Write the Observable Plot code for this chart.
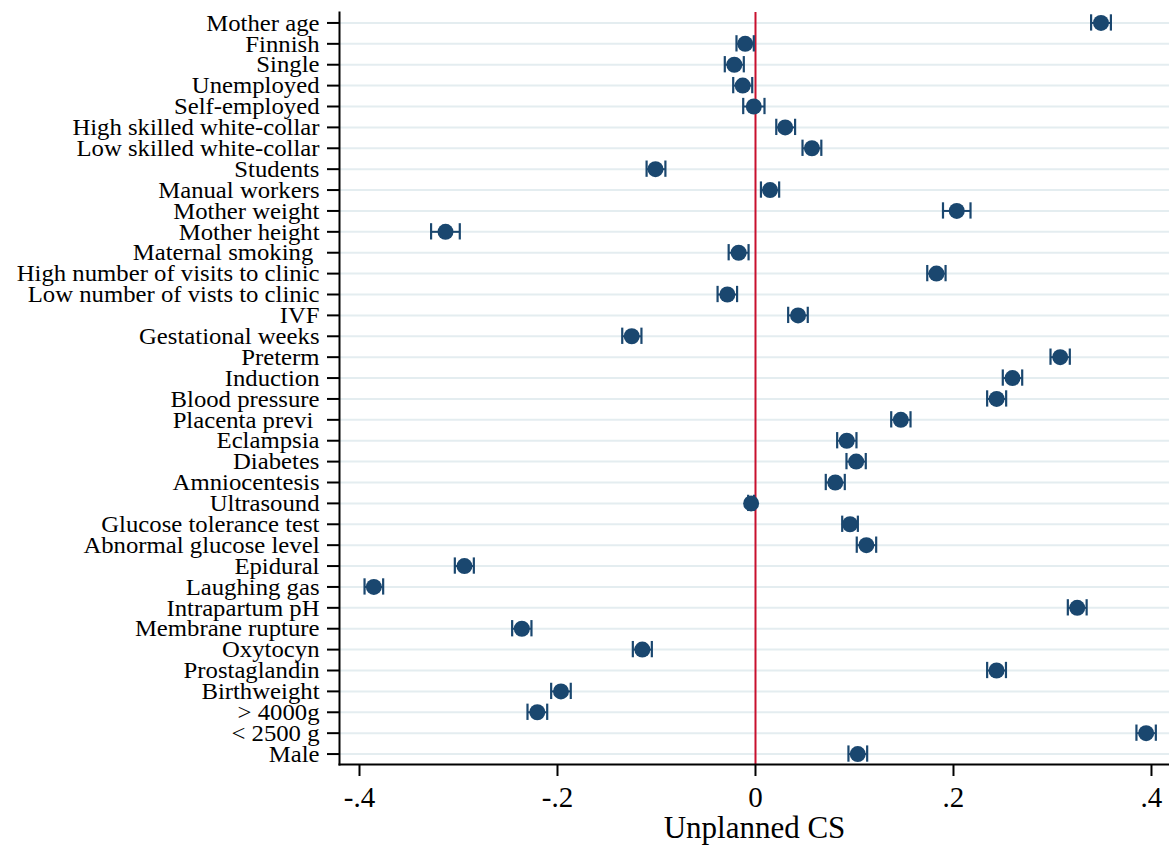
<!DOCTYPE html>
<html>
<head>
<meta charset="utf-8">
<script src="https://cdn.jsdelivr.net/npm/d3@7"></script>
<script src="https://cdn.jsdelivr.net/npm/@observablehq/plot@0.6"></script>
<style>
  html, body { margin: 0; padding: 0; background: #fff; }
  #chart svg { font-family: "Liberation Serif", "Times New Roman", serif; white-space: pre; }
</style>
</head>
<body>
<div id="chart"></div>
<script>
const labels = [
  "Mother age", "Finnish", "Single", "Unemployed", "Self-employed",
  "High skilled white-collar", "Low skilled white-collar", "Students", "Manual workers",
  "Mother weight", "Mother height", "Maternal smoking ", "High number of visits to clinic",
  "Low number of vists to clinic", "IVF", "Gestational weeks", "Preterm", "Induction",
  "Blood pressure", "Placenta previ ", "Eclampsia", "Diabetes", "Amniocentesis",
  "Ultrasound", "Glucose tolerance test", "Abnormal glucose level", "Epidural",
  "Laughing gas", "Intrapartum pH", "Membrane rupture", "Oxytocyn", "Prostaglandin",
  "Birthweight", "> 4000g", "< 2500 g", "Male"
];
const coef = [
  0.349, -0.0104, -0.0214, -0.0129, -0.0017,
  0.030, 0.057, -0.101, 0.0147,
  0.2033, -0.3131, -0.017, 0.1828,
  -0.0284, 0.043, -0.125, 0.3078, 0.2596,
  0.2436, 0.1468, 0.0922, 0.1017, 0.0806,
  -0.0044, 0.0955, 0.112, -0.294,
  -0.3855, 0.325, -0.236, -0.1143, 0.2435,
  -0.1965, -0.2204, 0.3946, 0.1033
];
const lower = [
  0.339, -0.0192, -0.031, -0.0225, -0.0124,
  0.021, 0.0475, -0.110, 0.0055,
  0.1894, -0.3277, -0.0271, 0.1735,
  -0.0383, 0.0330, -0.1346, 0.2980, 0.2498,
  0.2340, 0.1371, 0.0825, 0.0919, 0.0710,
  -0.0074, 0.0876, 0.1023, -0.3037,
  -0.3949, 0.3155, -0.2458, -0.1239, 0.234,
  -0.2064, -0.2303, 0.3848, 0.0939
];
const upper = [
  0.359, -0.0017, -0.0118, -0.0033, 0.0091,
  0.040, 0.0665, -0.091, 0.0239,
  0.2172, -0.2987, -0.0070, 0.1920,
  -0.0186, 0.0528, -0.1152, 0.3175, 0.2694,
  0.2532, 0.1566, 0.1020, 0.1114, 0.0902,
  -0.0014, 0.1034, 0.1219, -0.2845,
  -0.3761, 0.3345, -0.2263, -0.1047, 0.253,
  -0.1866, -0.2104, 0.4044, 0.1128
];
const xTicks = [-0.4, -0.2, 0, 0.2, 0.4];
const xTickLabels = ["-.4", "-.2", "0", ".2", ".4"];
const xDomain = [-0.4202, 0.4182];
const refLine = [0];
const xTitle = "Unplanned CS";

const rows = labels.map((label, i) => ({label, coef: coef[i], lo: lower[i], hi: upper[i]}));
const navy = "#1a476f";

const chart = Plot.plot({
  width: 1169,
  height: 848,
  marginLeft: 339,
  marginRight: 0,
  marginTop: 12,
  marginBottom: 84,
  style: {background: "#fff", color: "#000"},
  x: {domain: xDomain, nice: false},
  y: {type: "band", domain: labels, paddingInner: 0.22, paddingOuter: 0.11},
  marks: [
    Plot.gridY({stroke: "#e4edf0", strokeOpacity: 1, strokeWidth: 2}),
    Plot.ruleX(refLine, {stroke: "#c8102e", strokeWidth: 2}),
    Plot.ruleY(rows, {y: "label", x1: "lo", x2: "hi", stroke: navy, strokeWidth: 2}),
    Plot.tickX(rows, {x: "lo", y: "label", stroke: navy, strokeWidth: 2.2}),
    Plot.tickX(rows, {x: "hi", y: "label", stroke: navy, strokeWidth: 2.2}),
    Plot.dot(rows, {x: "coef", y: "label", r: 8, fill: navy}),
    Plot.frame({anchor: "left", stroke: "#000", strokeWidth: 2}),
    Plot.frame({anchor: "bottom", stroke: "#000", strokeWidth: 2}),
    Plot.axisY({tickSize: 12, tickPadding: 8, fontSize: 24, label: null, strokeWidth: 2}),
    Plot.axisX({ticks: xTicks, tickFormat: (d) => xTickLabels[xTicks.indexOf(d)], tickSize: 12, tickPadding: 10, fontSize: 29, label: null, strokeWidth: 2}),
    Plot.text([xTitle], {text: d => d, frameAnchor: "bottom", dy: 73, fontSize: 31, fill: "#000"})
  ]
});
document.getElementById("chart").appendChild(chart);

// Slight horizontal stretch of the y tick labels (the reference type is a little wider)
d3.select(chart).selectAll("g[aria-label='y-axis tick label'] text").each(function() {
  const t = this.getAttribute("transform") || "";
  this.setAttribute("transform", t + " scale(1.03,1)");
});
</script>
</body>
</html>
